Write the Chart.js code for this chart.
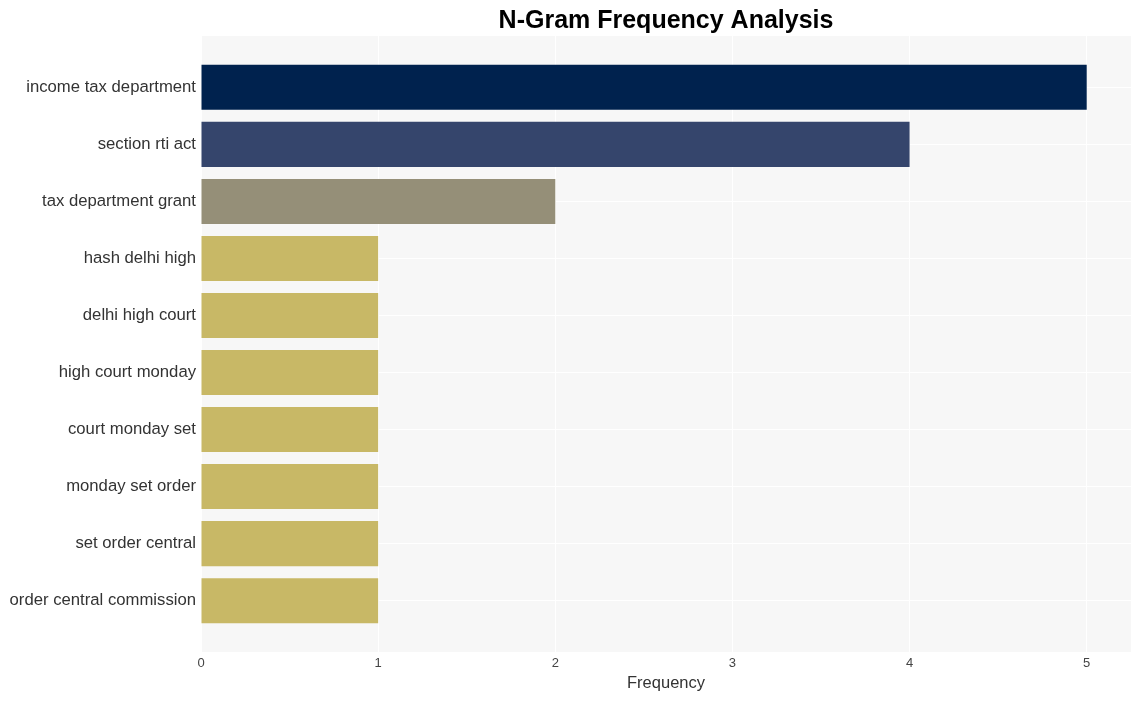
<!DOCTYPE html>
<html>
<head>
<meta charset="utf-8">
<script src="https://cdn.jsdelivr.net/npm/chart.js@4.4.0/dist/chart.umd.min.js"></script>
<style>
  html, body { margin: 0; padding: 0; background: #fff; }
  #wrap { width: 1141px; height: 701px; }
</style>
</head>
<body>
<div id="wrap"><canvas id="ngramChart" width="1141" height="701"></canvas></div>
<script>
var ngramLabels = ['income tax department', 'section rti act', 'tax department grant', 'hash delhi high',
    'delhi high court', 'high court monday', 'court monday set', 'monday set order',
    'set order central', 'order central commission'];
var ngramCounts = [5, 4, 2, 1, 1, 1, 1, 1, 1, 1];
var barColors = ['#00224e', '#35456c', '#958f78', '#c8b866', '#c8b866', '#c8b866', '#c8b866', '#c8b866', '#c8b866', '#c8b866'];
var xTicks = [0, 1, 2, 3, 4, 5];

var fontFamily = '"Liberation Sans", Arial, sans-serif';

// plot background + title centred over the plot area
var plotBackground = {
    id: 'plotBackground',
    beforeDraw: function (chart) {
        var a = chart.chartArea, ctx = chart.ctx;
        ctx.save();
        ctx.fillStyle = '#f7f7f7';
        ctx.fillRect(a.left, a.top, a.right - a.left, a.bottom - a.top);
        ctx.restore();
    },
    afterDraw: function (chart) {
        var a = chart.chartArea, ctx = chart.ctx;
        ctx.save();
        ctx.font = 'bold 25px ' + fontFamily;
        ctx.fillStyle = '#000';
        ctx.textAlign = 'center';
        ctx.textBaseline = 'middle';
        ctx.fillText('N-Gram Frequency Analysis', (a.left + a.right) / 2, 21);
        ctx.restore();
    }
};

var points = ngramCounts.map(function (v, i) { return { x: v, y: i }; });

var ctx = document.getElementById('ngramChart').getContext('2d');
new Chart(ctx, {
    type: 'bar',
    data: {
        datasets: [{
            label: 'Frequency',
            data: points,
            backgroundColor: barColors,
            borderWidth: 0,
            categoryPercentage: 0.79,
            barPercentage: 1.0
        }]
    },
    options: {
        indexAxis: 'y',
        responsive: false,
        animation: false,
        layout: { padding: { top: 36, right: 10, left: 0, bottom: 0 } },
        plugins: {
            legend: { display: false },
            title: { display: false },
            tooltip: { enabled: false }
        },
        scales: {
            x: {
                type: 'linear',
                min: 0,
                max: 5.25,
                afterBuildTicks: function (scale) {
                    scale.ticks = xTicks.map(function (v) { return { value: v }; });
                },
                afterFit: function (scale) { scale.height = 49; },
                grid: { color: '#ffffff', lineWidth: 1, drawTicks: false },
                border: { display: false },
                ticks: { color: '#444', font: { family: fontFamily, size: 13 }, padding: 4 },
                title: { display: true, text: 'Frequency', color: '#333', font: { family: fontFamily, size: 16.5 }, padding: { top: 0, bottom: 8 } }
            },
            y: {
                type: 'linear',
                reverse: true,
                offset: false,
                min: -0.9,
                max: 9.9,
                afterBuildTicks: function (scale) {
                    scale.ticks = ngramLabels.map(function (l, i) { return { value: i }; });
                },
                afterFit: function (scale) { scale.width = 201; },
                grid: { color: '#ffffff', lineWidth: 1, drawTicks: false, offset: false },
                border: { display: false },
                ticks: {
                    color: '#333',
                    font: { family: fontFamily, size: 16.7 },
                    padding: 5,
                    callback: function (value) { return ngramLabels[value]; }
                }
            }
        }
    },
    plugins: [plotBackground]
});
</script>
</body>
</html>
